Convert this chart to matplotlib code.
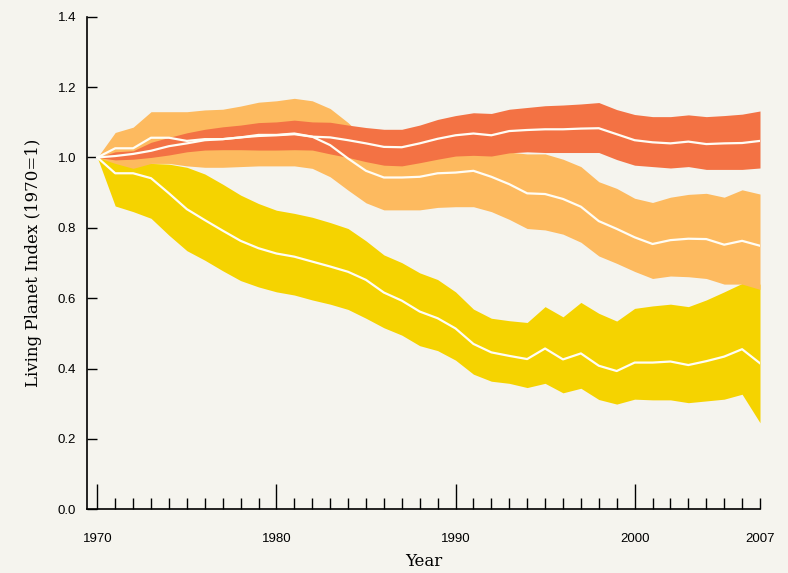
import numpy as np
import matplotlib.pyplot as plt

years = np.arange(1970, 2008)

# temperate index (red band)
temp_mid = [1.000, 1.004, 1.010, 1.019, 1.032, 1.040, 1.049, 1.052, 1.057, 1.061,
            1.063, 1.066, 1.059, 1.057, 1.049, 1.040, 1.030, 1.029, 1.040, 1.053,
            1.063, 1.068, 1.063, 1.075, 1.078, 1.080, 1.080, 1.082, 1.083, 1.066,
            1.049, 1.043, 1.040, 1.045, 1.038, 1.040, 1.041, 1.047]
temp_hi = [1.000, 1.016, 1.019, 1.043, 1.057, 1.070, 1.080, 1.087, 1.092, 1.099,
           1.101, 1.106, 1.101, 1.100, 1.092, 1.085, 1.080, 1.080, 1.092, 1.108,
           1.119, 1.127, 1.125, 1.137, 1.142, 1.147, 1.149, 1.152, 1.156, 1.136,
           1.122, 1.116, 1.116, 1.121, 1.116, 1.119, 1.123, 1.132]
temp_lo = [1.000, 0.993, 0.995, 1.000, 1.007, 1.016, 1.021, 1.022, 1.022, 1.021,
           1.021, 1.022, 1.021, 1.010, 1.000, 0.988, 0.978, 0.976, 0.985, 0.995,
           1.004, 1.006, 1.004, 1.013, 1.016, 1.014, 1.014, 1.014, 1.014, 0.994,
           0.978, 0.974, 0.970, 0.974, 0.966, 0.966, 0.966, 0.970]

# global index (light orange band)
glob_mid = [1.000, 1.026, 1.026, 1.056, 1.056, 1.047, 1.052, 1.052, 1.057, 1.064,
            1.064, 1.068, 1.059, 1.035, 0.997, 0.962, 0.943, 0.943, 0.945, 0.955,
            0.957, 0.962, 0.945, 0.924, 0.898, 0.896, 0.882, 0.860, 0.819, 0.797,
            0.773, 0.754, 0.765, 0.769, 0.768, 0.752, 0.763, 0.749]
glob_hi = [1.000, 1.071, 1.086, 1.130, 1.130, 1.130, 1.135, 1.137, 1.146, 1.157,
           1.161, 1.168, 1.161, 1.139, 1.099, 1.050, 1.020, 1.020, 1.030, 1.040,
           1.050, 1.050, 1.040, 1.015, 1.010, 1.010, 0.995, 0.974, 0.931, 0.912,
           0.884, 0.872, 0.887, 0.895, 0.898, 0.887, 0.908, 0.896]
glob_lo = [1.000, 0.983, 0.969, 0.983, 0.983, 0.976, 0.972, 0.972, 0.974, 0.976,
           0.976, 0.976, 0.969, 0.945, 0.907, 0.871, 0.851, 0.851, 0.851, 0.858,
           0.860, 0.860, 0.846, 0.824, 0.798, 0.794, 0.782, 0.759, 0.720, 0.699,
           0.676, 0.656, 0.663, 0.661, 0.656, 0.640, 0.640, 0.625]

# tropical index (yellow band)
trop_mid = [1.000, 0.955, 0.955, 0.941, 0.898, 0.853, 0.822, 0.792, 0.763, 0.742,
            0.727, 0.718, 0.704, 0.690, 0.675, 0.652, 0.616, 0.593, 0.562, 0.543,
            0.514, 0.470, 0.446, 0.436, 0.427, 0.457, 0.426, 0.443, 0.408, 0.393,
            0.417, 0.417, 0.420, 0.410, 0.421, 0.434, 0.455, 0.415]
trop_hi = [1.000, 0.992, 0.985, 0.983, 0.981, 0.972, 0.953, 0.924, 0.893, 0.869,
           0.850, 0.841, 0.830, 0.815, 0.798, 0.763, 0.723, 0.701, 0.672, 0.653,
           0.618, 0.569, 0.543, 0.536, 0.531, 0.576, 0.547, 0.588, 0.557, 0.535,
           0.571, 0.578, 0.583, 0.576, 0.595, 0.618, 0.642, 0.640]
trop_lo = [1.000, 0.862, 0.846, 0.827, 0.779, 0.735, 0.708, 0.678, 0.650, 0.632,
           0.618, 0.609, 0.595, 0.583, 0.568, 0.543, 0.516, 0.495, 0.465, 0.451,
           0.424, 0.384, 0.364, 0.358, 0.346, 0.358, 0.331, 0.344, 0.312, 0.299,
           0.313, 0.311, 0.311, 0.303, 0.308, 0.313, 0.327, 0.246]

bg = '#f5f4ee'
fig = plt.figure(figsize=(7.88, 5.73), dpi=100, facecolor=bg)
ax = fig.add_axes([87.3 / 788, 63.7 / 573, (760 - 87.3) / 788, 492.6 / 573])
ax.set_facecolor(bg)

ax.fill_between(years, trop_lo, trop_hi, color='#f5d300', lw=0)
ax.fill_between(years, glob_lo, glob_hi, color='#fdba5f', lw=0)
ax.fill_between(years, temp_lo, temp_hi, color='#f37244', lw=0)
for mid in (trop_mid, glob_mid, temp_mid):
    ax.plot(years, mid, color='#fffdf5', lw=1.6)

ax.set_xlim(1970 - 10 / 17.9, 2007)
ax.set_ylim(0, 1.4)

for side in ('top', 'right'):
    ax.spines[side].set_visible(False)
for side in ('left', 'bottom'):
    ax.spines[side].set_linewidth(1.2)

ax.set_xticks([1970, 1980, 1990, 2000, 2007])
ax.set_xticks(np.arange(1971, 2007), minor=True)
ax.tick_params(axis='x', which='major', direction='in', length=18, width=1,
               pad=17, labelsize=9.5)
ax.tick_params(axis='x', which='minor', direction='in', length=8, width=1)
ax.xaxis.get_major_ticks()[-1].tick1line.set_markersize(8)

ax.set_yticks(np.arange(0, 1.41, 0.2))
ax.set_yticklabels(['%.1f' % v for v in np.arange(0, 1.41, 0.2)])
ax.tick_params(axis='y', direction='in', length=7.5, width=1, pad=8,
               labelsize=9.5)
for lab in ax.get_xticklabels() + ax.get_yticklabels():
    lab.set_fontfamily('Liberation Sans')

ax.set_xlabel('Year', family='DejaVu Serif', fontsize=12, labelpad=6)
ax.set_ylabel('Living Planet Index (1970=1)', family='DejaVu Serif',
              fontsize=12, labelpad=11)

fig.savefig('out.png', dpi=100, facecolor=bg)
